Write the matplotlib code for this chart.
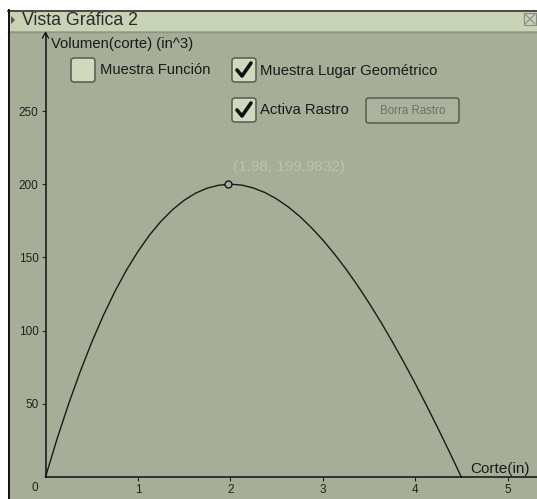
import matplotlib
matplotlib.use('Agg')
import matplotlib.pyplot as plt
from matplotlib.patches import Rectangle, FancyBboxPatch, Polygon
from matplotlib.lines import Line2D

plt.rcParams['font.family'] = ['Liberation Sans', 'DejaVu Sans']

# datos: corte (in) vs volumen (in^3)
corte = [0, 0.125, 0.25, 0.375, 0.5, 0.625, 0.75, 0.875, 1.0, 1.125, 1.25, 1.375,
         1.5, 1.625, 1.75, 1.875, 2.0, 2.125, 2.25, 2.375, 2.5, 2.625, 2.75, 2.875,
         3.0, 3.125, 3.25, 3.375, 3.5, 3.625, 3.75, 3.875, 4.0, 4.125, 4.25, 4.375, 4.5]
volumen = [0, 26.0, 49.9, 71.9, 92.0, 110.2, 126.6, 141.2, 154.0, 165.2, 174.7, 182.6,
           189.0, 193.9, 197.3, 199.3, 200.0, 199.4, 197.4, 194.3, 190.0, 184.6, 178.1, 170.5,
           162.0, 152.5, 142.2, 131.0, 119.0, 106.3, 92.8, 78.7, 64.0, 48.7, 32.9, 16.7, 0]
punto_x = [1.98]
punto_y = [199.9832]
xticks = [1, 2, 3, 4, 5]
yticks = [50, 100, 150, 200, 250]

W, H = 537, 499
fondo = '#a6ae97'
barra = '#c8d2b5'
caja = '#cfd9bd'

fig = plt.figure(figsize=(W / 100, H / 100), dpi=100)
fig.patch.set_facecolor('white')


def fx(px):
    return px / W


def fy(py):
    return 1 - py / H


# area de la vista
fig.patches.append(Rectangle((fx(8), 0), fx(W - 8), fy(10), transform=fig.transFigure,
                             facecolor=fondo, edgecolor='none', zorder=-10))
fig.patches.append(Rectangle((fx(8), fy(31)), fx(W - 8), fy(10) - fy(31), transform=fig.transFigure,
                             facecolor=barra, edgecolor='none', zorder=-9))
fig.lines.append(Line2D([fx(8), 1], [fy(10.5), fy(10.5)], transform=fig.transFigure, color='#333333', lw=1.2))
fig.lines.append(Line2D([fx(8), 1], [fy(31.5), fy(31.5)], transform=fig.transFigure, color='#8f9782', lw=1))
fig.lines.append(Line2D([fx(8.5), fx(8.5)], [0, fy(10)], transform=fig.transFigure, color='#111111', lw=1.4))

# barra de titulo
fig.patches.append(Polygon([[fx(11), fy(16)], [fx(11), fy(24)], [fx(15), fy(20)]], closed=True,
                           transform=fig.transFigure, facecolor='#555555', edgecolor='none'))
fig.text(fx(22), fy(20.5), 'Vista Gráfica 2', fontsize=12.8, color='#2a2a2a', va='center', ha='left')
fig.patches.append(Rectangle((fx(524), fy(25)), fx(12), fy(13) - fy(25), transform=fig.transFigure,
                             facecolor='none', edgecolor='#8a8a8a', lw=0.8))
fig.lines.append(Line2D([fx(525), fx(535)], [fy(14), fy(24)], transform=fig.transFigure, color='#8a8a8a', lw=0.8))
fig.lines.append(Line2D([fx(525), fx(535)], [fy(24), fy(14)], transform=fig.transFigure, color='#8a8a8a', lw=0.8))

# ejes
ax = fig.add_axes([fx(9), 0, fx(W - 9), fy(32)])
ax.set_facecolor('none')
x0, ppx = 45.5, 92.4
y0, ppy = 477, 1.464
ax.set_xlim((9 - x0) / ppx, (W - x0) / ppx)
ax.set_ylim((y0 - H) / ppy, (y0 - 32) / ppy)

for s in ['top', 'right']:
    ax.spines[s].set_visible(False)
ax.spines['left'].set_position(('data', 0))
ax.spines['bottom'].set_position(('data', 0))
ax.spines['left'].set_bounds(0, (y0 - 33) / ppy)
ax.spines['bottom'].set_bounds(0, (W - x0) / ppx)
ax.spines['left'].set_color('#111111')
ax.spines['bottom'].set_color('#111111')
ax.spines['left'].set_linewidth(1.1)
ax.spines['bottom'].set_linewidth(1.1)

ax.set_xticks(xticks)
ax.set_yticks(yticks)
ax.tick_params(axis='both', direction='out', length=3, width=0.8, colors='#222222',
               labelsize=8.5, labelcolor='#222222', pad=2)
ax.text(-0.08, -7.5, '0', fontsize=8.5, color='#222222', ha='right', va='center')

# flecha del eje y
fig.lines.append(Line2D([fx(42.5), fx(45.5), fx(48.5)], [fy(38), fy(32.5), fy(38)],
                        transform=fig.transFigure, color='#111111', lw=0.9))

ax.text(0.055, (y0 - 44) / ppy, 'Volumen(corte) (in^3)', fontsize=10.7, color='#1a1a1a', ha='left', va='center')
ax.text(5.24, (y0 - 469) / ppy, 'Corte(in)', fontsize=11, color='#1a1a1a', ha='right', va='center')

# lugar geometrico
ax.plot(corte, volumen, color='#1a1a1a', lw=1.0)
ax.plot(punto_x, punto_y, marker='o', ms=5, mfc=fondo, mec='#1a1a1a', mew=1.0, ls='none')
ax.text(punto_x[0] + 0.05, punto_y[0] + 12, '(1.98, 199.9832)', fontsize=11, color='#bcc1b1',
        ha='left', va='center')


# casillas
def casilla(px, py, marcada):
    fig.patches.append(FancyBboxPatch((fx(px), fy(py + 24)), fx(24), fy(py) - fy(py + 24),
                                      boxstyle='round,pad=0,rounding_size=0.006',
                                      transform=fig.transFigure, facecolor=caja,
                                      edgecolor='#5e6258', lw=1.2))
    if marcada:
        fig.lines.append(Line2D([fx(px + 5), fx(px + 10), fx(px + 19)],
                                [fy(py + 12), fy(py + 18), fy(py + 5)],
                                transform=fig.transFigure, color='#111111', lw=2.6,
                                solid_capstyle='round', solid_joinstyle='round'))


casilla(71, 58, False)
fig.text(fx(99.5), fy(70.5), 'Muestra Función', fontsize=10.6, color='#1a1a1a', va='center', ha='left')
casilla(232, 58, True)
fig.text(fx(259.5), fy(71), 'Muestra Lugar Geométrico', fontsize=10.7, color='#1a1a1a', va='center', ha='left')
casilla(232, 98, True)
fig.text(fx(259.5), fy(110), 'Activa Rastro', fontsize=10.7, color='#1a1a1a', va='center', ha='left')

# boton
fig.patches.append(FancyBboxPatch((fx(366), fy(123)), fx(93), fy(98) - fy(123),
                                  boxstyle='round,pad=0,rounding_size=0.005',
                                  transform=fig.transFigure, facecolor='#aab39c',
                                  edgecolor='#4f534a', lw=1.0))
fig.text(fx(412.5), fy(111), 'Borra Rastro', fontsize=8.3, color='#6e6e6e', va='center', ha='center')

fig.savefig('out.png', dpi=100, facecolor='white')
